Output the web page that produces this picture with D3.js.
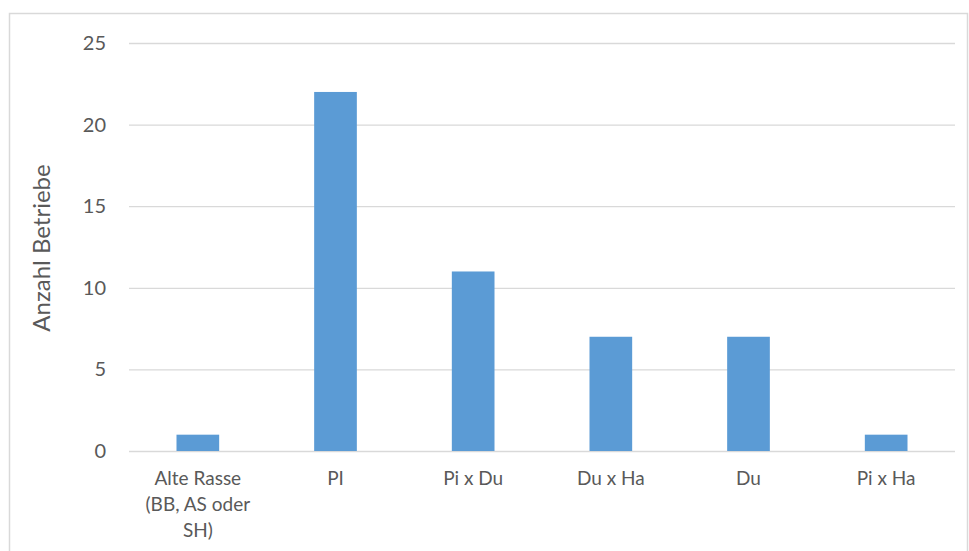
<!DOCTYPE html>
<html>
<head>
<meta charset="utf-8">
<script src="https://cdn.jsdelivr.net/npm/d3@7"></script>
<style>
  body { margin: 0; background: #fff; }
  svg text { font-family: Lato, "Open Sans", sans-serif; fill: #595959; }
</style>
</head>
<body>
<svg id="chart" width="969" height="551"></svg>
<script>
// Werte aus der Vorlage
const rassen = ["Alte Rasse (BB, AS oder SH)", "PI", "Pi x Du", "Du x Ha", "Du", "Pi x Ha"];
const betriebe = [1, 22, 11, 7, 7, 1];
const yTicks = [0, 5, 10, 15, 20, 25];

const svg = d3.select("#chart");
const plot = { left: 129, right: 955, top: 43, bottom: 451 };

// Rahmen
svg.append("rect")
    .attr("x", 9.5).attr("y", 13.5)
    .attr("width", 958).attr("height", 560)
    .attr("fill", "none")
    .attr("stroke", "#d9d9d9")
    .attr("stroke-width", 1.5);

const x = d3.scaleBand()
    .domain(rassen)
    .range([plot.left, plot.right])
    .paddingInner(0.69)
    .paddingOuter(0.345);

const y = d3.scaleLinear()
    .domain([0, 25])
    .range([plot.bottom, plot.top]);

// Gitterlinien
svg.append("g")
    .selectAll("line")
    .data(yTicks)
    .join("line")
    .attr("x1", plot.left).attr("x2", plot.right)
    .attr("y1", d => y(d) + 0.5).attr("y2", d => y(d) + 0.5)
    .attr("stroke", "#d9d9d9")
    .attr("stroke-width", 1.3);

// Y-Achse Beschriftung
svg.append("g")
    .selectAll("text")
    .data(yTicks)
    .join("text")
    .attr("x", 106)
    .attr("y", d => y(d))
    .attr("dy", "0.35em")
    .attr("text-anchor", "end")
    .style("font-size", "20px")
    .text(d => d);

// Balken
svg.append("g")
    .selectAll("rect")
    .data(betriebe)
    .join("rect")
    .attr("x", (d, i) => x(rassen[i]))
    .attr("y", d => y(d))
    .attr("width", x.bandwidth())
    .attr("height", d => y(0) - y(d))
    .attr("fill", "#5b9bd5");

// Kategorien (mit Umbruch wie im Original)
const umbruch = {
    "Alte Rasse (BB, AS oder SH)": ["Alte Rasse", "(BB, AS oder", "SH)"]
};
const xLabels = svg.append("g")
    .selectAll("text")
    .data(rassen)
    .join("text")
    .attr("x", d => x(d) + x.bandwidth() / 2)
    .attr("y", 485)
    .attr("text-anchor", "middle")
    .style("font-size", "19px");
xLabels.each(function (d) {
    const zeilen = umbruch[d] || [d];
    d3.select(this).selectAll("tspan")
        .data(zeilen)
        .join("tspan")
        .attr("x", x(d) + x.bandwidth() / 2)
        .attr("dy", (z, i) => i === 0 ? 0 : 26)
        .text(z => z);
});

// Achsentitel
svg.append("text")
    .attr("transform", "translate(42," + ((plot.top + plot.bottom) / 2 + 1) + ") rotate(-90)")
    .attr("text-anchor", "middle")
    .attr("dy", "0.35em")
    .style("font-size", "24px")
    .text("Anzahl Betriebe");
</script>
</body>
</html>
